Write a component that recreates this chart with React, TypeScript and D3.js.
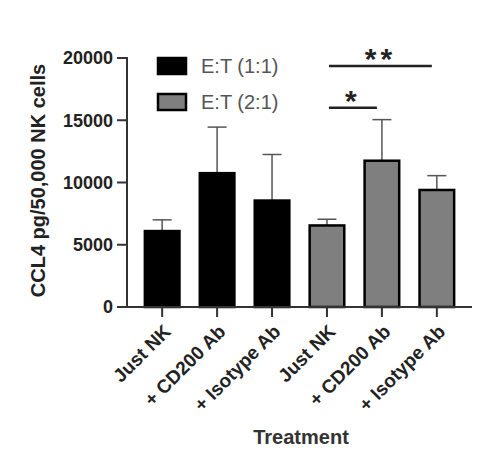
import React from "react";
import * as d3 from "d3";

const categories = ["Just NK", "+ CD200 Ab", "+ Isotype Ab", "Just NK ", "+ CD200 Ab ", "+ Isotype Ab "];
const labels = ["Just NK", "+ CD200 Ab", "+ Isotype Ab", "Just NK", "+ CD200 Ab", "+ Isotype Ab"];
const means = [6100, 10750, 8550, 6550, 11750, 9400];
const errTops = [7000, 14450, 12250, 7050, 15050, 10550];
const groups = [0, 0, 0, 1, 1, 1];
const seriesNames = ["E:T (1:1)", "E:T (2:1)"];
const seriesFill = ["#000000", "#7f7f7f"];
const yTicks = [0, 5000, 10000, 15000, 20000];
// significance brackets
const sigFrom = [3, 3];
const sigTo = [5, 4];
const sigText = ["**", "*"];
const sigLevel = [19350, 16000];

const W = 480;
const H = 464;
const left = 127;
const right = 472;
const top = 58;
const bottom = 307;
const font = "'Liberation Sans', Arial, sans-serif";
const axisCol = "#333";

export default function App() {
  const x = d3.scalePoint<string>().domain(categories).range([left, right]).padding(0.64);
  const y = d3.scaleLinear().domain([0, 20000]).range([bottom, top]);
  const bw = x.step() * 0.63;
  const cap = 19;

  return (
    <svg width={W} height={H} style={{ position: "absolute", left: 0, top: 0, background: "#fff" }}>
      {/* bars */}
      {categories.map((c, i) => {
        const cx = x(c)!;
        return (
          <g key={c}>
            <line x1={cx} x2={cx} y1={y(means[i])} y2={y(errTops[i])} stroke="#555" strokeWidth={1.5} />
            <line x1={cx - cap / 2} x2={cx + cap / 2} y1={y(errTops[i])} y2={y(errTops[i])} stroke="#555" strokeWidth={1.5} />
            <rect
              x={cx - bw / 2}
              y={y(means[i])}
              width={bw}
              height={bottom - y(means[i])}
              fill={seriesFill[groups[i]]}
              stroke="#000"
              strokeWidth={2.5}
            />
          </g>
        );
      })}

      {/* y axis */}
      <line x1={left} x2={left} y1={top - 1} y2={bottom + 1} stroke={axisCol} strokeWidth={2} />
      {yTicks.map((t) => (
        <g key={t} transform={`translate(0,${y(t)})`}>
          <line x1={left - 10} x2={left} stroke={axisCol} strokeWidth={2} />
          <text x={left - 14} dy="0.36em" textAnchor="end" fontFamily={font} fontWeight="bold" fontSize={18} fill="#222">
            {t}
          </text>
        </g>
      ))}
      <text
        transform={`translate(45,${(top + bottom) / 2 - 2}) rotate(-90)`}
        textAnchor="middle"
        fontFamily={font}
        fontWeight="bold"
        fontSize={20}
        fill="#222"
      >
        CCL4 pg/50,000 NK cells
      </text>

      {/* x axis */}
      <line x1={left} x2={right} y1={bottom} y2={bottom} stroke={axisCol} strokeWidth={2} />
      {categories.map((c, i) => (
        <g key={"t" + c} transform={`translate(${x(c)},${bottom})`}>
          <line y1={0} y2={10} stroke={axisCol} strokeWidth={2} />
          <text
            transform="translate(5,21) rotate(-45)"
            textAnchor="end"
            dy="0.35em"
            fontFamily={font}
            fontWeight="bold"
            fontSize={19}
            fill="#222"
          >
            {labels[i]}
          </text>
        </g>
      ))}
      <text x={301} y={444} textAnchor="middle" fontFamily={font} fontWeight="bold" fontSize={20} fill="#333">
        Treatment
      </text>

      {/* legend */}
      {seriesNames.map((s, i) => (
        <g key={s} transform={`translate(157,${57 + i * 36})`}>
          <rect x={1} y={1} width={28} height={16} fill={seriesFill[i]} stroke="#000" strokeWidth={2.5} />
          <text x={44} y={9} dy="0.36em" fontFamily={font} fontSize={20} fill="#555">
            {s}
          </text>
        </g>
      ))}

      {/* significance */}
      {sigText.map((s, i) => {
        const x1 = x(categories[sigFrom[i]])! + 2;
        const x2 = x(categories[sigTo[i]])! - 5;
        const yy = y(sigLevel[i]);
        return (
          <g key={"s" + i}>
            <line x1={x1} x2={x2} y1={yy} y2={yy} stroke="#222" strokeWidth={2.5} />
            <text x={(x1 + x2) / 2} y={yy + 3} textAnchor="middle" fontFamily={font} fontWeight="bold" fontSize={30} fill="#222" letterSpacing={4}>
              {s}
            </text>
          </g>
        );
      })}
    </svg>
  );
}
